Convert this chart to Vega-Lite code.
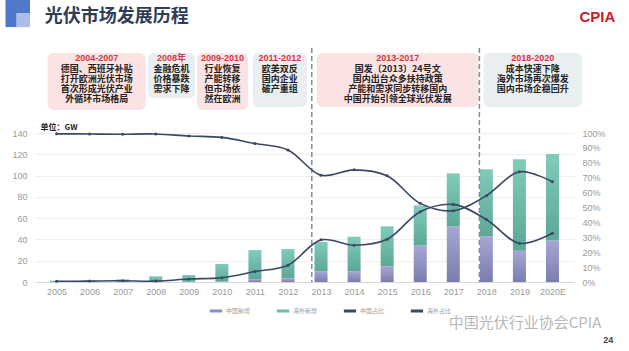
{
  "$schema": "https://vega.github.io/schema/vega-lite/v6.json",
  "autosize": "none",
  "width": 539,
  "height": 234,
  "padding": {"left": 35, "top": 48, "right": 55, "bottom": 69},
  "background": "white",
  "config": {
    "view": {"stroke": null},
    "font": "'Liberation Sans', 'Noto Sans CJK SC', sans-serif",
    "axis": {"labelColor": "#9a9a9a", "labelFontSize": 9, "labelFont": "'Liberation Sans', sans-serif", "ticks": false, "labelOverlap": false}
  },
  "datasets": {
    "bars": [
      {"year": 2005, "series": "中国新增", "value": 0.01}, {"year": 2005, "series": "海外新增", "value": 1.2},
      {"year": 2006, "series": "中国新增", "value": 0.01}, {"year": 2006, "series": "海外新增", "value": 1.5},
      {"year": 2007, "series": "中国新增", "value": 0.02}, {"year": 2007, "series": "海外新增", "value": 2.5},
      {"year": 2008, "series": "中国新增", "value": 0.04}, {"year": 2008, "series": "海外新增", "value": 5.3},
      {"year": 2009, "series": "中国新增", "value": 0.16}, {"year": 2009, "series": "海外新增", "value": 6.4},
      {"year": 2010, "series": "中国新增", "value": 0.5}, {"year": 2010, "series": "海外新增", "value": 16.5},
      {"year": 2011, "series": "中国新增", "value": 2.7}, {"year": 2011, "series": "海外新增", "value": 27.3},
      {"year": 2012, "series": "中国新增", "value": 3.5}, {"year": 2012, "series": "海外新增", "value": 27.5},
      {"year": 2013, "series": "中国新增", "value": 10.0}, {"year": 2013, "series": "海外新增", "value": 27.6},
      {"year": 2014, "series": "中国新增", "value": 10.2}, {"year": 2014, "series": "海外新增", "value": 32.4},
      {"year": 2015, "series": "中国新增", "value": 14.8}, {"year": 2015, "series": "海外新增", "value": 37.5},
      {"year": 2016, "series": "中国新增", "value": 34.3}, {"year": 2016, "series": "海外新增", "value": 37.7},
      {"year": 2017, "series": "中国新增", "value": 52.3}, {"year": 2017, "series": "海外新增", "value": 49.8},
      {"year": 2018, "series": "中国新增", "value": 43.0}, {"year": 2018, "series": "海外新增", "value": 62.9},
      {"year": 2019, "series": "中国新增", "value": 29.3}, {"year": 2019, "series": "海外新增", "value": 86.0},
      {"year": 2020, "series": "中国新增", "value": 39.0}, {"year": 2020, "series": "海外新增", "value": 81.3}
    ],
    "shares": [
      {"year": 2005, "series": "中国占比", "share": 0.005}, {"year": 2005, "series": "海外占比", "share": 0.995},
      {"year": 2006, "series": "中国占比", "share": 0.006}, {"year": 2006, "series": "海外占比", "share": 0.994},
      {"year": 2007, "series": "中国占比", "share": 0.008}, {"year": 2007, "series": "海外占比", "share": 0.992},
      {"year": 2008, "series": "中国占比", "share": 0.006}, {"year": 2008, "series": "海外占比", "share": 0.994},
      {"year": 2009, "series": "中国占比", "share": 0.02}, {"year": 2009, "series": "海外占比", "share": 0.98},
      {"year": 2010, "series": "中国占比", "share": 0.029}, {"year": 2010, "series": "海外占比", "share": 0.971},
      {"year": 2011, "series": "中国占比", "share": 0.07}, {"year": 2011, "series": "海外占比", "share": 0.93},
      {"year": 2012, "series": "中国占比", "share": 0.113}, {"year": 2012, "series": "海外占比", "share": 0.887},
      {"year": 2013, "series": "中国占比", "share": 0.283}, {"year": 2013, "series": "海外占比", "share": 0.717},
      {"year": 2014, "series": "中国占比", "share": 0.247}, {"year": 2014, "series": "海外占比", "share": 0.753},
      {"year": 2015, "series": "中国占比", "share": 0.287}, {"year": 2015, "series": "海外占比", "share": 0.713},
      {"year": 2016, "series": "中国占比", "share": 0.472}, {"year": 2016, "series": "海外占比", "share": 0.528},
      {"year": 2017, "series": "中国占比", "share": 0.521}, {"year": 2017, "series": "海外占比", "share": 0.479},
      {"year": 2018, "series": "中国占比", "share": 0.42}, {"year": 2018, "series": "海外占比", "share": 0.58},
      {"year": 2019, "series": "中国占比", "share": 0.26}, {"year": 2019, "series": "海外占比", "share": 0.74},
      {"year": 2020, "series": "中国占比", "share": 0.327}, {"year": 2020, "series": "海外占比", "share": 0.673}
    ],
    "phases": [
      {"period": "2004-2007", "group": "A", "from": 2004.73, "to": 2007.70, "xc": 2006.215, "top": 215.3, "bottom": 161.7, "lines": ["德国、西班牙补贴", "打开欧洲光伏市场", "首次形成光伏产业", "外循环市场格局"]},
      {"period": "2008年", "group": "B", "from": 2007.76, "to": 2009.19, "xc": 2008.475, "top": 215.3, "bottom": 173.0, "lines": ["金融危机", "价格暴跌", "需求下降"]},
      {"period": "2009-2010", "group": "A", "from": 2009.25, "to": 2010.79, "xc": 2010.02, "top": 215.3, "bottom": 161.7, "lines": ["行业恢复", "产能转移", "但市场依", "然在欧洲"]},
      {"period": "2011-2012", "group": "B", "from": 2010.94, "to": 2012.57, "xc": 2011.755, "top": 215.3, "bottom": 164.5, "lines": ["欧美双反", "国内企业", "破产重组"]},
      {"period": "2013-2017", "group": "A", "from": 2012.87, "to": 2017.77, "xc": 2015.32, "top": 215.3, "bottom": 164.5, "lines": ["国发〔2013〕24号文", "国内出台众多扶持政策", "产能和需求同步转移国内", "中国开始引领全球光伏发展"]},
      {"period": "2018-2020", "group": "B", "from": 2017.92, "to": 2020.89, "xc": 2019.405, "top": 215.3, "bottom": 164.5, "lines": ["成本快速下降", "海外市场再次爆发", "国内市场企稳回升"]}
    ],
    "dividers": [{"at": 2012.72}, {"at": 2017.79}],
    "badge": [
      {"shade": "dark", "from": 2003.456, "to": 2004.198, "top": 265.1, "bottom": 239.7},
      {"shade": "light", "from": 2003.782, "to": 2004.198, "top": 252.9, "bottom": 239.7}
    ],
    "notes": [
      {"note": "光伏市场发展历程", "at": 2004.64, "level": 249.0},
      {"note": "CPIA", "at": 2021.36, "level": 249.2},
      {"note": "中国光伏行业协会CPIA", "at": 2019.17, "level": -38.5},
      {"note": "24", "at": 2021.69, "level": -54.5}
    ]
  },
  "layer": [
    {
      "layer": [
        {
          "data": {"name": "bars"},
          "transform": [{"stack": "value", "groupby": ["year"], "sort": [{"field": "series", "order": "ascending"}], "as": ["v0", "v1"]}],
          "layer": [
            {
              "transform": [{"filter": "datum.series === '中国新增'"}],
              "mark": {"type": "bar", "width": 13, "fill": {"gradient": "linear", "x1": 0, "y1": 0, "x2": 0, "y2": 1, "stops": [{"offset": 0, "color": "#a6a7d5"}, {"offset": 1, "color": "#7a7dad"}]}},
              "encoding": {
                "x": {"field": "year", "type": "quantitative", "title": null, "scale": {"domain": [2004.5, 2020.5], "nice": false, "zero": false},
                  "axis": {"values": [2005, 2006, 2007, 2008, 2009, 2010, 2011, 2012, 2013, 2014, 2015, 2016, 2017, 2018, 2019, 2020], "tickCount": 40, "labelExpr": "datum.value == 2020 ? '2020E' : '' + datum.value", "grid": false, "domainColor": "#d6d6d6", "labelPadding": 5, "labelOverlap": false, "labelFlush": false}},
                "y": {"field": "v1", "type": "quantitative", "scale": {"domain": [0, 220], "nice": false},
                  "axis": {"values": [0, 20, 40, 60, 80, 100, 120, 140], "tickCount": 40, "grid": true, "gridColor": "#efefef", "domain": false, "labelPadding": 8, "labelOverlap": false,
                    "title": "单位：GW", "titleAngle": 0, "titleAlign": "left", "titleBaseline": "middle", "titleX": 5, "titleY": 79, "titleFont": "Noto Sans CJK SC", "titleFontSize": 8, "titleFontWeight": "bold", "titleColor": "#222222"}},
                "y2": {"field": "v0"}
              }
            },
            {
              "transform": [{"filter": "datum.series === '海外新增'"}],
              "mark": {"type": "bar", "width": 13, "fill": {"gradient": "linear", "x1": 0, "y1": 0, "x2": 0, "y2": 1, "stops": [{"offset": 0, "color": "#80cbba"}, {"offset": 1, "color": "#5ca796"}]}},
              "encoding": {
                "x": {"field": "year", "type": "quantitative"},
                "y": {"field": "v1", "type": "quantitative"},
                "y2": {"field": "v0"}
              }
            }
          ]
        },
        {
          "data": {"name": "badge"},
          "transform": [{"filter": "datum.shade === 'dark'"}],
          "mark": {"type": "rect", "fill": "#4e79c9"},
          "encoding": {
            "x": {"field": "from", "type": "quantitative"},
            "x2": {"field": "to"},
            "y": {"field": "top", "type": "quantitative"},
            "y2": {"field": "bottom"}
          }
        },
        {
          "data": {"name": "badge"},
          "transform": [{"filter": "datum.shade === 'light'"}],
          "mark": {"type": "rect", "fill": "#a9bfe9"},
          "encoding": {
            "x": {"field": "from", "type": "quantitative"},
            "x2": {"field": "to"},
            "y": {"field": "top", "type": "quantitative"},
            "y2": {"field": "bottom"}
          }
        },
        {
          "data": {"name": "phases"},
          "transform": [{"filter": "datum.group === 'A'"}],
          "mark": {"type": "rect", "cornerRadius": 6, "fill": "#fbe2e3"},
          "encoding": {
            "x": {"field": "from", "type": "quantitative"},
            "x2": {"field": "to"},
            "y": {"field": "top", "type": "quantitative"},
            "y2": {"field": "bottom"}
          }
        },
        {
          "data": {"name": "phases"},
          "transform": [{"filter": "datum.group === 'B'"}],
          "mark": {"type": "rect", "cornerRadius": 6, "fill": "#e9eef0"},
          "encoding": {
            "x": {"field": "from", "type": "quantitative"},
            "x2": {"field": "to"},
            "y": {"field": "top", "type": "quantitative"},
            "y2": {"field": "bottom"}
          }
        },
        {
          "data": {"name": "phases"},
          "mark": {"type": "text", "font": "'Liberation Sans', 'Noto Sans CJK SC'", "fontWeight": "bold", "fontSize": 9, "color": "#cf3a3f", "baseline": "middle", "dy": 5},
          "encoding": {
            "x": {"field": "xc", "type": "quantitative"},
            "y": {"field": "top", "type": "quantitative"},
            "text": {"field": "period", "type": "nominal"}
          }
        },
        {
          "data": {"name": "phases"},
          "mark": {"type": "text", "font": "Noto Sans CJK SC", "fontWeight": "bold", "fontSize": 9, "lineHeight": 10, "color": "#222222", "baseline": "top", "dy": 12.5},
          "encoding": {
            "x": {"field": "xc", "type": "quantitative"},
            "y": {"field": "top", "type": "quantitative"},
            "text": {"field": "lines", "type": "nominal"}
          }
        },
        {
          "data": {"name": "dividers"},
          "mark": {"type": "rule", "strokeDash": [5, 3], "color": "#7b8ea5", "strokeWidth": 1.5},
          "encoding": {
            "x": {"field": "at", "type": "quantitative"}
          }
        },
        {
          "data": {"name": "notes"},
          "transform": [{"filter": "datum.note === '光伏市场发展历程'"}],
          "mark": {"type": "text", "font": "Noto Sans CJK SC", "fontWeight": "bold", "fontSize": 18, "color": "#2f3d58", "align": "left", "baseline": "middle"},
          "encoding": {
            "x": {"field": "at", "type": "quantitative"},
            "y": {"field": "level", "type": "quantitative"},
            "text": {"field": "note", "type": "nominal"}
          }
        },
        {
          "data": {"name": "notes"},
          "transform": [{"filter": "datum.note === 'CPIA'"}],
          "mark": {"type": "text", "font": "'Liberation Sans'", "fontWeight": "bold", "fontSize": 15, "color": "#c8202b", "baseline": "middle"},
          "encoding": {
            "x": {"field": "at", "type": "quantitative"},
            "y": {"field": "level", "type": "quantitative"},
            "text": {"field": "note", "type": "nominal"}
          }
        },
        {
          "data": {"name": "notes"},
          "transform": [{"filter": "datum.note === '中国光伏行业协会CPIA'"}],
          "mark": {"type": "text", "font": "Noto Sans CJK SC", "fontSize": 15, "color": "#b8b8b8", "baseline": "middle"},
          "encoding": {
            "x": {"field": "at", "type": "quantitative"},
            "y": {"field": "level", "type": "quantitative"},
            "text": {"field": "note", "type": "nominal"}
          }
        },
        {
          "data": {"name": "notes"},
          "transform": [{"filter": "datum.note === '24'"}],
          "mark": {"type": "text", "font": "'Liberation Sans'", "fontWeight": "bold", "fontSize": 9, "color": "#444444", "baseline": "middle"},
          "encoding": {
            "x": {"field": "at", "type": "quantitative"},
            "y": {"field": "level", "type": "quantitative"},
            "text": {"field": "note", "type": "nominal"}
          }
        }
      ]
    },
    {
      "data": {"name": "shares"},
      "layer": [
        {
          "mark": {"type": "line", "interpolate": "catmull-rom", "strokeWidth": 1.6},
          "encoding": {
            "x": {"field": "year", "type": "quantitative"},
            "y": {"field": "share", "type": "quantitative", "title": null, "scale": {"domain": [0, 1.5714], "nice": false},
              "axis": {"orient": "right", "values": [0, 0.1, 0.2, 0.3, 0.4, 0.5, 0.6, 0.7, 0.8, 0.9, 1], "tickCount": 40, "format": ".0%", "grid": false, "domain": false, "labelPadding": 8, "labelOverlap": false}},
            "color": {"field": "series", "type": "nominal",
              "scale": {"domain": ["中国新增", "海外新增", "中国占比", "海外占比"], "range": ["#8b8dbe", "#6fbcab", "#3a4766", "#3a4766"]},
              "legend": {"orient": "none", "legendX": 173, "legendY": 255, "direction": "horizontal", "title": null, "labelFontSize": 6, "labelColor": "#9a9a9a", "labelFont": "Noto Sans CJK SC", "labelOffset": 2, "columnPadding": 19, "symbolType": "stroke", "symbolSize": 150, "symbolStrokeWidth": 3}
            }
          }
        },
        {
          "mark": {"type": "point", "filled": true, "size": 9, "opacity": 1},
          "encoding": {
            "x": {"field": "year", "type": "quantitative"},
            "y": {"field": "share", "type": "quantitative"},
            "color": {"field": "series", "type": "nominal"}
          }
        }
      ]
    }
  ],
  "resolve": {"scale": {"y": "independent"}}
}
